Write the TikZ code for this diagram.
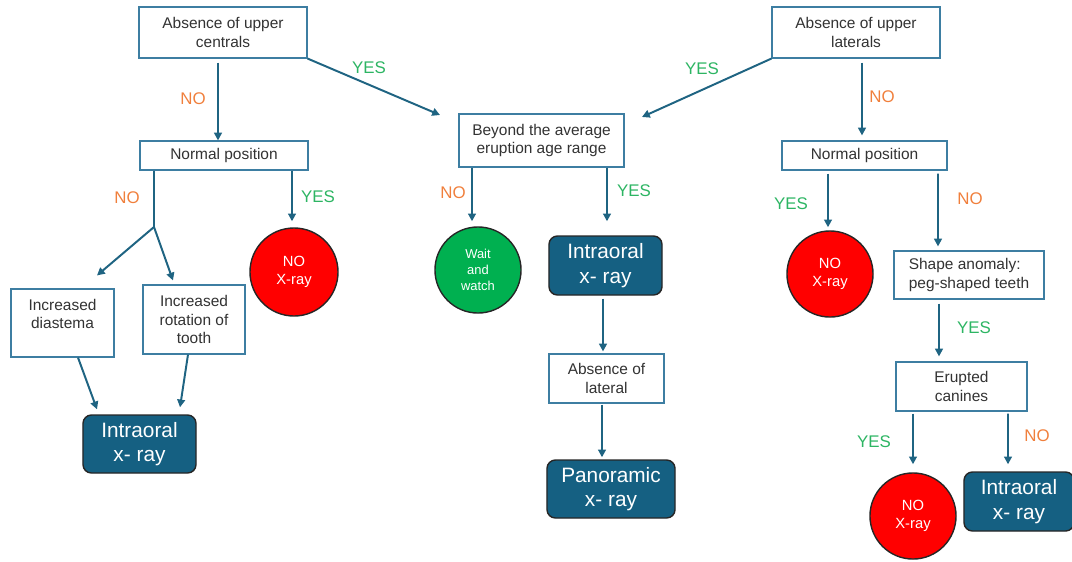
\documentclass[tikz,border=0pt]{standalone}
\usepackage{fontspec}
\setmainfont{Liberation Sans}
\usepackage{xcolor}
\usepackage{tikz}
\usetikzlibrary{arrows.meta,positioning,calc}
\definecolor{flow}{HTML}{1F6482}
\definecolor{boxedge}{HTML}{3D7EA2}
\definecolor{darkbox}{HTML}{156082}
\definecolor{noorange}{HTML}{F07F3C}
\definecolor{yesgreen}{HTML}{2DB563}
\definecolor{stopred}{HTML}{FF0000}
\definecolor{waitgreen}{HTML}{00B050}
\tikzset{
  boxsize/.style 2 args={minimum width=#1*0.7113pt, minimum height=#2*0.7113pt},
  question/.style={rectangle, draw=boxedge, line width=0.8pt, fill=white, align=center, inner sep=1pt, text=black!80, font=\fontsize{11}{13}\selectfont},
  result/.style={rectangle, draw=black!85, line width=1pt, fill=darkbox, rounded corners=6pt, align=center, inner sep=1pt, text=white, font=\fontsize{14.8}{17.5}\selectfont},
  noray/.style={circle, draw=black!85, line width=1pt, fill=stopred, align=center, inner sep=0pt, minimum size=61.2pt, text=white, font=\fontsize{10.5}{13}\selectfont},
  waitnode/.style={circle, draw=black!85, line width=1pt, fill=waitgreen, align=center, inner sep=0pt, minimum size=61.2pt, text=white, font=\fontsize{9.2}{11.5}\selectfont},
  yes/.style={text=yesgreen, font=\fontsize{12}{14}\selectfont},
  no/.style={text=noorange, font=\fontsize{12}{14}\selectfont},
  line/.style={-{Triangle[length=5.5pt,width=5.5pt]}, line width=1.4pt, draw=flow}
}

\begin{document}
\begin{tikzpicture}[x=0.025cm, y=-0.025cm]
  \useasboundingbox (0,0) rectangle (1072,561);
  % questions
  \node[question, boxsize={168}{51}] (centrals) at (223,32.5) {Absence of upper\\centrals};
  \node[question, boxsize={168}{51}] (laterals) at (856,32.5) {Absence of upper\\laterals};
  \node[question, boxsize={165}{53}] (eruption) at (541.5,140.5) {Beyond the average\\eruption age range};
  \node[question, boxsize={168}{29}] (npL) at (224,155.5) {Normal position};
  \node[question, boxsize={165}{29}] (npR) at (864.5,155.5) {Normal position};
  \node[question, boxsize={103}{68}] (diastema) at (62.5,323) {Increased\\diastema\\~};
  \node[question, boxsize={102}{69}] (rotation) at (194,319.5) {Increased\\rotation of\\tooth};
  \node[question, boxsize={115}{49}] (absLat) at (606.5,378.5) {Absence of\\lateral};
  \node[question, boxsize={150}{48}, align=left] (shape) at (969,275) {Shape anomaly:\\peg-shaped teeth};
  \node[question, boxsize={131}{49}] (erupted) at (961.5,386.5) {Erupted\\canines};
  % outcomes
  \node[noray, minimum size=62.6pt] (noxL) at (294,272) {NO\\X-ray};
  \node[noray] (noxR) at (830,274) {NO\\X-ray};
  \node[noray] (noxB) at (913,516) {NO\\X-ray};
  \node[waitnode] (wait) at (478,270) {Wait\\and\\watch};
  \node[result, boxsize={113}{58}] (ioL) at (139.5,444) {Intraoral\\x- ray};
  \node[result, boxsize={113}{59}] (ioMid) at (605.5,265.5) {Intraoral\\x- ray};
  \node[result, boxsize={128}{58}] (pano) at (611,489) {Panoramic\\x- ray};
  \node[result, boxsize={110}{59}] (ioR) at (1019,501.5) {Intraoral\\x- ray};
  % free ends
  \coordinate (inL) at (440,115);
  \coordinate (inR) at (642,117);
  \coordinate (split) at (154,227);
  % connectors
  \draw[line] ($(centrals.south)+(-5,4)$) -- ($(npL.north)+(-6,0)$);
  \draw[line] (centrals.south east) -- (inL);
  \draw[line] (laterals.south west) -- (inR);
  \draw[line] ($(laterals.south)+(6,4)$) -- ($(npR.north)+(-2.5,-5)$);
  \draw[line, -] ($(npL.south)+(-70,0)$) -- (split);
  \draw[line] (split) -- ($(diastema.north)+(34.5,-13)$);
  \draw[line] (split) -- ($(rotation.north)+(-21,-4)$);
  \draw[line] ($(npL.south)+(68,0)$) -- ($(noxL.north)+(-2,-6)$);
  \draw[line] ($(eruption.south)+(-69.5,0)$) -- ($(wait.north)+(-6,-5)$);
  \draw[line] ($(eruption.south)+(65.5,0)$) -- ($(ioMid.north)+(1.5,-14)$);
  \draw[line] ($(ioMid.south)+(-2.5,3)$) -- ($(absLat.north)+(-3.5,-2)$);
  \draw[line] ($(absLat.south)+(-4.5,1)$) -- ($(pano.north)+(-9,-2)$);
  \draw[line] ($(diastema.south)+(15.5,0)$) -- ($(ioL.north)+(-42.5,-5)$);
  \draw[line] ($(rotation.south)+(-6,0)$) -- ($(ioL.north)+(40.5,-7)$);
  \draw[line] ($(npR.south)+(-36.5,3)$) -- ($(noxR.north)+(-2,-3)$);
  \draw[line] ($(npR.south)+(73.5,3)$) -- ($(shape.north)+(-31,-4)$);
  \draw[line] ($(shape.south)+(-30,4)$) -- ($(erupted.north)+(-22.5,-5)$);
  \draw[line] ($(erupted.south)+(-48.5,2)$) -- ($(noxB.north)+(0,-8)$);
  \draw[line] ($(erupted.south)+(46.5,2)$) -- ($(ioR.north)+(-11,-7)$);
  % answers
  \node[no] (noA) at (193,99) {NO};
  \node[yes] (yesA) at (369,68) {YES};
  \node[yes] (yesB) at (702,69) {YES};
  \node[no] (noB) at (882,97) {NO};
  \node[no] (noC) at (127,198) {NO};
  \node[yes] (yesC) at (318,197) {YES};
  \node[no] (noD) at (453,193) {NO};
  \node[yes] (yesD) at (634,191) {YES};
  \node[yes] (yesE) at (791,204) {YES};
  \node[no] (noE) at (970,199) {NO};
  \node[yes] (yesF) at (974,328) {YES};
  \node[yes] (yesG) at (874,442) {YES};
  \node[no] (noF) at (1037,436) {NO};
\end{tikzpicture}
\end{document}
